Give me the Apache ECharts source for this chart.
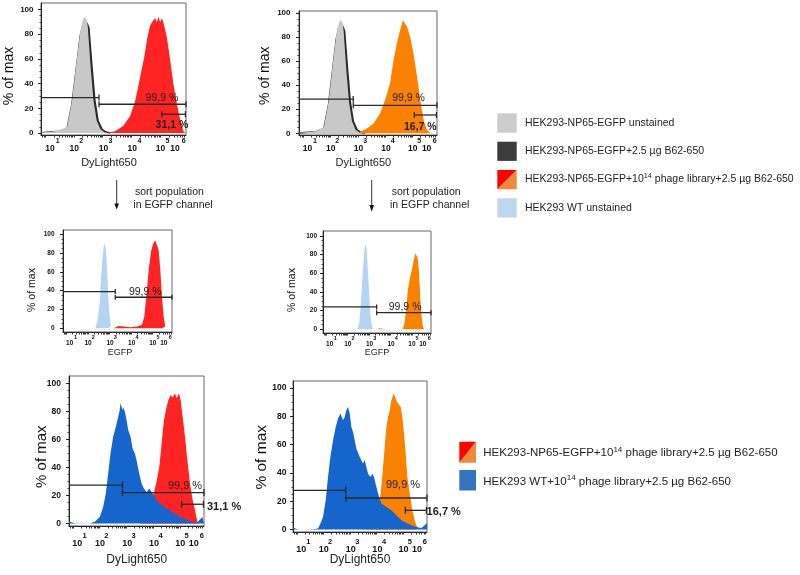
<!DOCTYPE html>
<html>
<head>
<meta charset="utf-8">
<script src="https://cdn.jsdelivr.net/npm/echarts@6/dist/echarts.min.js"></script>
<style>
html, body { margin: 0; padding: 0; background: #fff; }
#chart { width: 800px; height: 575px; }
</style>
</head>
<body>
<div id="chart"></div>
<script>
// x = log10 of fluorescence (decades), y = % of max
var X_MIN = 0.85, X_MAX = 5.9;
var xTenPos = [1.16, 2.01, 3.03, 4.03, 5.01, 5.52];
var xExpPos = [1.43, 2.25, 3.27, 4.28, 5.25, 5.82];
var xTickExp = ['1', '2', '3', '4', '5', '6'];
var yTicks = [0, 20, 40, 60, 80, 100];
var yMinor = [5, 10, 15, 25, 30, 35, 45, 50, 55, 65, 70, 75, 85, 90, 95];

// top row, DyLight650
var grayUnstained = [[0.86, 0.5], [1.2, 1], [1.5, 2], [1.76, 5], [1.93, 26], [2.07, 54], [2.21, 81], [2.31, 92], [2.36, 94], [2.4, 95.5], [2.44, 92], [2.48, 86], [2.58, 53], [2.68, 26], [2.79, 10], [2.92, 3], [3.05, 0.8], [3.15, 0]];
var blackStained = [[0.86, 0.3], [1.5, 1.5], [1.76, 4], [1.93, 24], [2.07, 51], [2.21, 78], [2.31, 88], [2.4, 91], [2.47, 88], [2.52, 85], [2.63, 53], [2.73, 26], [2.84, 10], [2.98, 3], [3.1, 1], [3.26, 0]];
var redLibrary = [[3.0, 0], [3.19, 0.5], [3.43, 1.5], [3.71, 5.7], [3.95, 13.5], [4.13, 26], [4.3, 45], [4.44, 61], [4.56, 78], [4.65, 87], [4.75, 91], [4.83, 93], [4.88, 90], [4.94, 94], [5.0, 90], [5.06, 93], [5.12, 89], [5.23, 78], [5.35, 59], [5.46, 40], [5.58, 24], [5.7, 10.5], [5.81, 1.5], [5.88, 0]];
var orangeLibrary = [[3.0, 0], [3.33, 4], [3.57, 8], [3.82, 16.6], [4.0, 27.6], [4.18, 41.4], [4.31, 60.7], [4.43, 74.6], [4.55, 85.6], [4.65, 93.9], [4.71, 95.3], [4.8, 88.6], [4.92, 80], [5.04, 66.3], [5.17, 47], [5.29, 27.6], [5.41, 11], [5.53, 3], [5.65, 0.5], [5.75, 0]];

// middle row, EGFP
var blueWtEgfpL = [[2.35, 0], [2.455, 8.8], [2.547, 26.6], [2.609, 51.4], [2.671, 72.7], [2.733, 86.9], [2.779, 90.4], [2.841, 83.3], [2.888, 65.6], [2.934, 40.8], [2.995, 16], [3.073, 1.8], [3.135, 0]];
var redSorted = [[3.196, 0], [3.428, 2.5], [3.66, 1.8], [3.969, 1], [4.278, 1.8], [4.509, 3.6], [4.617, 12.4], [4.71, 33.6], [4.818, 62], [4.926, 81.5], [5.019, 89.7], [5.127, 93.3], [5.204, 92.2], [5.281, 83.3], [5.359, 62], [5.436, 33.6], [5.513, 12.4], [5.59, 1.8], [5.667, 0]];
var blueWtEgfpR = [[2.45, 0], [2.544, 6.4], [2.622, 27.9], [2.685, 52.9], [2.748, 74.3], [2.795, 86.8], [2.842, 91.4], [2.889, 86.8], [2.936, 67.2], [2.999, 42.2], [3.061, 17.2], [3.14, 2.9], [3.202, 0]];
var orangeSorted = [[3.359, 0], [3.516, 1.1], [3.673, 0.4], [4.143, 0], [4.582, 0.4], [4.66, 6.4], [4.738, 20.7], [4.817, 42.2], [4.926, 56.5], [5.005, 63.7], [5.083, 72.6], [5.161, 81.5], [5.208, 82.1], [5.271, 77.2], [5.334, 63.7], [5.396, 35], [5.459, 13.6], [5.522, 2.9], [5.584, 0]];

// bottom row, DyLight650
var blueWtLibL = [[0.85, 1.5], [0.877, 1.4], [1.065, 0.3], [1.627, 0], [1.815, 1.4], [2.002, 4.8], [2.127, 11.9], [2.227, 21.4], [2.315, 35.7], [2.402, 50], [2.502, 61.9], [2.602, 69], [2.69, 76.2], [2.74, 80], [2.777, 85.7], [2.815, 86.2], [2.85, 81], [2.877, 83], [2.94, 79.8], [3.002, 73.8], [3.065, 66.7], [3.152, 61.9], [3.227, 53.6], [3.315, 50], [3.377, 45.2], [3.477, 35.7], [3.565, 28.6], [3.652, 25], [3.752, 22.6], [3.852, 25], [3.94, 22.6], [4.027, 20.2], [4.127, 16.7], [4.252, 14.3], [4.377, 12.6], [4.502, 10.7], [4.627, 9.5], [4.752, 7.6], [4.877, 6.7], [5.002, 4.8], [5.127, 3.6], [5.252, 3], [5.377, 2], [5.502, 1.4], [5.627, 0.7], [5.752, 2.9], [5.84, 4.8], [5.9, 5]];
var redLibBottom = [[3.502, 0], [3.752, 4.8], [3.877, 9.5], [4.002, 20], [4.127, 30], [4.227, 40.4], [4.315, 57.1], [4.402, 73.8], [4.502, 83.3], [4.565, 88], [4.652, 91.6], [4.727, 89.9], [4.815, 92.9], [4.877, 89.3], [4.965, 92.9], [5.027, 88], [5.102, 76.2], [5.19, 61.9], [5.277, 45.2], [5.377, 28.6], [5.477, 16.7], [5.565, 9.5], [5.652, 1.4], [5.727, 0]];
var blueWtLibR = [[0.851, 1.5], [0.914, 0.7], [1.039, 0], [1.354, 0], [1.605, 0.3], [1.793, 0.7], [1.856, 3.1], [1.982, 8.9], [2.082, 20.7], [2.17, 37.2], [2.258, 51.3], [2.359, 63.1], [2.459, 72.5], [2.547, 78.4], [2.635, 81.9], [2.685, 80.7], [2.736, 77.2], [2.798, 79.5], [2.861, 84.2], [2.924, 86.6], [2.987, 81.9], [3.05, 72.5], [3.112, 68.9], [3.175, 63.1], [3.238, 57.2], [3.301, 56], [3.364, 51.3], [3.426, 48.9], [3.489, 46.6], [3.552, 48.9], [3.615, 44.2], [3.678, 39.5], [3.766, 37.2], [3.841, 39.5], [3.904, 37.2], [3.992, 30.1], [4.092, 23.1], [4.18, 18.4], [4.369, 16], [4.557, 13.6], [4.746, 10.1], [4.934, 6.6], [5.122, 4.7], [5.311, 3.1], [5.499, 1.9], [5.688, 1.2], [5.813, 3.1], [5.9, 4.7]];
var orangeLibBottom = [[3.6, 0], [3.866, 6.6], [3.992, 12], [4.055, 16], [4.117, 20], [4.18, 30.1], [4.243, 44.2], [4.306, 58.4], [4.369, 72.5], [4.431, 79.5], [4.494, 84.2], [4.557, 91.3], [4.645, 96], [4.708, 94.8], [4.771, 90.1], [4.846, 88.9], [4.909, 86.6], [4.972, 79.5], [5.034, 67.8], [5.097, 53.6], [5.16, 37.2], [5.248, 25.4], [5.349, 13.6], [5.437, 6.6], [5.499, 3.1], [5.562, 0.7], [5.6, 0]];

// gates: [from, to, level, cap at start, cap at end]
var gatesA = [[0.85, 2.87, 28.7, 0, 1], [2.87, 5.9, 23.3, 1, 1], [5.06, 5.88, 15.2, 1, 1]];
var gatesB = [[0.85, 2.835, 28.4, 0, 1], [2.835, 5.9, 23.2, 1, 1], [5.07, 5.88, 15.2, 1, 1]];
var gatesC = [[0.85, 3.27, 39, 0, 1], [3.27, 5.9, 33, 1, 1]];
var gatesD = [[0.85, 3.36, 24, 0, 1], [3.36, 5.9, 17.8, 1, 1]];
var gatesE = [[0.85, 2.85, 27.4, 0, 1], [2.85, 5.9, 22.1, 1, 1], [5.06, 5.88, 13.8, 1, 1]];
var gatesF = [[0.85, 2.836, 27.7, 0, 1], [2.836, 5.9, 22.3, 1, 1], [5.085, 5.88, 13.6, 1, 1]];

// gate percentages: [x, y, text, bold]
var textsA = [[5.06, 28.1, '99,9 %', 0], [5.41, 6.2, '31,1 %', 1]];
var textsB = [[4.86, 29, '99,9 %', 0], [5.29, 5.5, '16,7 %', 1]];
var textsC = [[4.66, 38.9, '99,9 %', 0]];
var textsD = [[4.69, 23.6, '99,9 %', 0]];
var textsE = [[5.19, 26.9, '99,9 %', 0], [6.65, 11.9, '31,1 %', 1]];
var textsF = [[4.996, 31.3, '99,9 %', 0], [6.53, 12.4, '16,7 %', 1]];

var FONT = "'Liberation Sans', Arial, sans-serif";
var C_GRAY = '#c8c8c8', C_BLACK = '#2a2a2a', C_RED = '#ff2424', C_ORANGE = '#fb8200',
    C_LBLUE = '#b5d4f1', C_BLUE = '#1565cc';

var rows = [
  {yLab: 8, ten: 8.5, exp: 7, tenMargin: 9.5, expMargin: 2.5, gate: 10.5, cap: 3},
  {yLab: 6.5, ten: 6.5, exp: 5.5, tenMargin: 8, expMargin: 2, gate: 10.5, cap: 2.5},
  {yLab: 8.5, ten: 9, exp: 7.5, tenMargin: 13, expMargin: 5.5, gate: 11, cap: 3.5}
];

var panels = [
  {row: 0, box: [41, 3, 145, 132], y: [-1.6, 105.3], yMargin: 7.5,
   layers: [[blackStained, C_BLACK, true], [grayUnstained, C_GRAY], [redLibrary, C_RED]], gates: gatesA, texts: textsA},
  {row: 0, box: [299, 11, 138, 124], y: [-1.4, 101.5], yMargin: 8.5,
   layers: [[blackStained, C_BLACK, true], [grayUnstained, C_GRAY], [orangeLibrary, C_ORANGE]], gates: gatesB, texts: textsB},
  {row: 1, box: [63, 230, 109, 102], y: [-4, 104.6], yMargin: 8.5,
   layers: [[blueWtEgfpL, C_LBLUE], [redSorted, C_RED]], gates: gatesC, texts: textsC},
  {row: 1, box: [323, 231, 108, 102], y: [-4, 105.4], yMargin: 6,
   layers: [[blueWtEgfpR, C_LBLUE], [orangeSorted, C_ORANGE]], gates: gatesD, texts: textsD},
  {row: 2, box: [69, 376, 135, 150], y: [-1.7, 105.2], yMargin: 8,
   layers: [[redLibBottom, C_RED], [blueWtLibL, C_BLUE]], gates: gatesE, texts: textsE},
  {row: 2, box: [293, 381, 134, 151], y: [-1.7, 104.9], yMargin: 6.5,
   layers: [[orangeLibBottom, C_ORANGE], [blueWtLibR, C_BLUE]], gates: gatesF, texts: textsF}
];

var xMinorTicks = [];
for (var dec = 0; dec <= 5; dec++) {
  for (var m = 1; m <= 9; m++) {
    var t = dec + Math.log10(m);
    if (t >= X_MIN && t <= X_MAX) xMinorTicks.push(t);
  }
}

function nearest(list, v) {
  var best = 0;
  for (var i = 1; i < list.length; i++) {
    if (Math.abs(list[i] - v) < Math.abs(list[best] - v)) best = i;
  }
  return best;
}

var option = {animation: false, grid: [], xAxis: [], yAxis: [], series: [], graphic: []};

panels.forEach(function (p, i) {
  var r = rows[p.row];
  option.grid.push({left: p.box[0], top: p.box[1], width: p.box[2], height: p.box[3],
    show: true, borderColor: '#666', borderWidth: 1});
  // decade labels "10"
  option.xAxis.push({
    type: 'value', gridIndex: i, min: X_MIN, max: X_MAX, position: 'bottom',
    axisLine: {onZero: false, lineStyle: {color: '#222', width: 1}},
    splitLine: {show: false},
    axisTick: {customValues: xMinorTicks, length: 2.5, lineStyle: {color: '#333'}},
    axisLabel: {customValues: xTenPos, margin: r.tenMargin, fontSize: r.ten, fontWeight: 'bold',
      fontFamily: FONT, color: '#111', formatter: function () { return '10'; }}
  });
  // exponents
  option.xAxis.push({
    type: 'value', gridIndex: i, min: X_MIN, max: X_MAX, position: 'bottom', offset: 0,
    axisLine: {show: false, onZero: false}, axisTick: {show: false}, splitLine: {show: false},
    axisLabel: {customValues: xExpPos, margin: r.expMargin, fontSize: r.exp, fontWeight: 'bold',
      fontFamily: FONT, color: '#111', formatter: function (v) { return xTickExp[nearest(xExpPos, v)]; }}
  });
  option.yAxis.push({
    type: 'value', gridIndex: i, min: p.y[0], max: p.y[1], position: 'left',
    axisLine: {show: true, onZero: false, lineStyle: {color: '#222', width: 1}},
    splitLine: {show: false},
    axisTick: {show: true, customValues: yTicks, length: 3, lineStyle: {color: '#222'}},
    axisLabel: {customValues: yTicks, margin: p.yMargin, fontSize: r.yLab, fontWeight: 'bold',
      fontFamily: FONT, color: '#111'}
  });
  option.yAxis.push({
    type: 'value', gridIndex: i, min: p.y[0], max: p.y[1], position: 'left', offset: 0,
    axisLine: {show: false, onZero: false}, splitLine: {show: false}, axisLabel: {show: false},
    axisTick: {show: true, customValues: yMinor, length: 1.5, lineStyle: {color: '#444'}}
  });

  p.layers.forEach(function (l, k) {
    option.series.push({
      type: 'line', xAxisIndex: 2 * i, yAxisIndex: 2 * i, data: l[0], symbol: 'none', silent: true,
      z: 2 + k,
      lineStyle: {width: l[2] ? 1.4 : 0, color: l[1]},
      areaStyle: {color: l[1], opacity: 1}
    });
  });

  option.series.push({
    type: 'custom', xAxisIndex: 2 * i, yAxisIndex: 2 * i, silent: true, z: 8,
    data: p.gates,
    renderItem: function (params, api) {
      var a = api.coord([api.value(0), api.value(2)]);
      var b = api.coord([api.value(1), api.value(2)]);
      var st = {stroke: '#2a2a2a', lineWidth: 1.3};
      var kids = [{type: 'line', shape: {x1: a[0], y1: a[1], x2: b[0], y2: b[1]}, style: st}];
      if (api.value(3)) kids.push({type: 'line', shape: {x1: a[0], y1: a[1] - r.cap, x2: a[0], y2: a[1] + r.cap}, style: st});
      if (api.value(4)) kids.push({type: 'line', shape: {x1: b[0], y1: b[1] - r.cap, x2: b[0], y2: b[1] + r.cap}, style: st});
      return {type: 'group', children: kids};
    }
  });

  option.series.push({
    type: 'custom', xAxisIndex: 2 * i, yAxisIndex: 2 * i, silent: true, z: 9,
    data: p.texts.map(function (t) { return [t[0], t[1]]; }),
    renderItem: function (params, api) {
      var t = p.texts[params.dataIndex];
      var c = api.coord([t[0], t[1]]);
      return {type: 'text', x: c[0], y: c[1], style: {text: t[2], fontSize: r.gate,
        fontWeight: t[3] ? 'bold' : 'normal', fontFamily: FONT, fill: '#1e1e1e',
        align: 'center', verticalAlign: 'middle'}};
    }
  });
});

// axis titles
var yNames = [[9, 76, 14], [265.3, 75.7, 14], [32.3, 290, 10.5], [291.7, 290, 10.5], [41.7, 456.7, 15], [261.7, 457.3, 15.5]];
yNames.forEach(function (n) {
  option.graphic.push({type: 'text', x: n[0], y: n[1], rotation: Math.PI / 2,
    style: {text: '% of max', fontSize: n[2], fontFamily: FONT, fill: '#111', align: 'center', verticalAlign: 'middle'}});
});
var xNames = [[109, 163, 11, 'DyLight650'], [363.3, 163, 11, 'DyLight650'], [120, 353, 9, 'EGFP'],
  [377, 353, 9, 'EGFP'], [136.7, 560, 12, 'DyLight650'], [360, 560, 12, 'DyLight650']];
xNames.forEach(function (n) {
  option.graphic.push({type: 'text', x: n[0], y: n[1],
    style: {text: n[3], fontSize: n[2], fontFamily: FONT, fill: '#222', align: 'center', verticalAlign: 'middle'}});
});

// sort arrows
[[116.7, 114.3, 119, 203.5, 209.5, 135, 133.3], [371.7, 369.4, 374, 205, 211.7, 391.7, 390]].forEach(function (a) {
  option.graphic.push({type: 'line', shape: {x1: a[0], y1: 180, x2: a[0], y2: a[3] + 1}, style: {stroke: '#333', lineWidth: 1}});
  option.graphic.push({type: 'polygon', shape: {points: [[a[1], a[3]], [a[2], a[3]], [a[0], a[4]]]}, style: {fill: '#111'}});
  option.graphic.push({type: 'text', x: a[5], y: 192.5, style: {text: 'sort population', fontSize: 10.5, fontFamily: FONT, fill: '#222', verticalAlign: 'middle'}});
  option.graphic.push({type: 'text', x: a[6], y: 205.5, style: {text: 'in EGFP channel', fontSize: 10.5, fontFamily: FONT, fill: '#222', verticalAlign: 'middle'}});
});

// legends
function splitSwatch(x, y, w, h) {
  option.graphic.push({type: 'polygon', shape: {points: [[x, y], [x + w, y], [x, y + h]]}, style: {fill: '#ff0000'}});
  option.graphic.push({type: 'polygon', shape: {points: [[x + w, y], [x + w, y + h], [x, y + h]]}, style: {fill: '#ef8a3a'}});
}
function legendText(x, y, txt, size) {
  option.graphic.push({type: 'text', x: x, y: y, style: {text: txt, fontSize: size, fontFamily: FONT, fill: '#222',
    verticalAlign: 'middle', rich: {sup: {fontSize: size * 0.7, fontFamily: FONT, fill: '#222', padding: [0, 0, size * 0.6, 0], verticalAlign: 'middle'}}}});
}
option.graphic.push({type: 'rect', shape: {x: 497.3, y: 113.3, width: 19.4, height: 19.4}, style: {fill: '#cccccc'}});
option.graphic.push({type: 'rect', shape: {x: 497.3, y: 141.7, width: 19.4, height: 19.2}, style: {fill: '#3c3c3c'}});
splitSwatch(497.3, 170, 19.4, 19.3);
option.graphic.push({type: 'rect', shape: {x: 497.3, y: 198.3, width: 19.4, height: 19.2}, style: {fill: '#bdd7ee'}});
legendText(525, 123.3, 'HEK293-NP65-EGFP unstained', 10.5);
legendText(525, 151, 'HEK293-NP65-EGFP+2.5 µg B62-650', 10.5);
legendText(525, 179.3, 'HEK293-NP65-EGFP+10{sup|14} phage library+2.5 µg B62-650', 10.5);
legendText(525, 208.3, 'HEK293 WT unstained', 10.5);

splitSwatch(459.3, 441.7, 16.7, 21);
option.graphic.push({type: 'rect', shape: {x: 459.3, y: 470, width: 16.7, height: 20.5}, style: {fill: '#3473bd'}});
legendText(483.3, 453.3, 'HEK293-NP65-EGFP+10{sup|14} phage library+2.5 µg B62-650', 11.5);
legendText(483.3, 481.7, 'HEK293 WT+10{sup|14} phage library+2.5 µg B62-650', 11.5);

var chart = echarts.init(document.getElementById('chart'));
chart.setOption(option);
</script>
</body>
</html>
